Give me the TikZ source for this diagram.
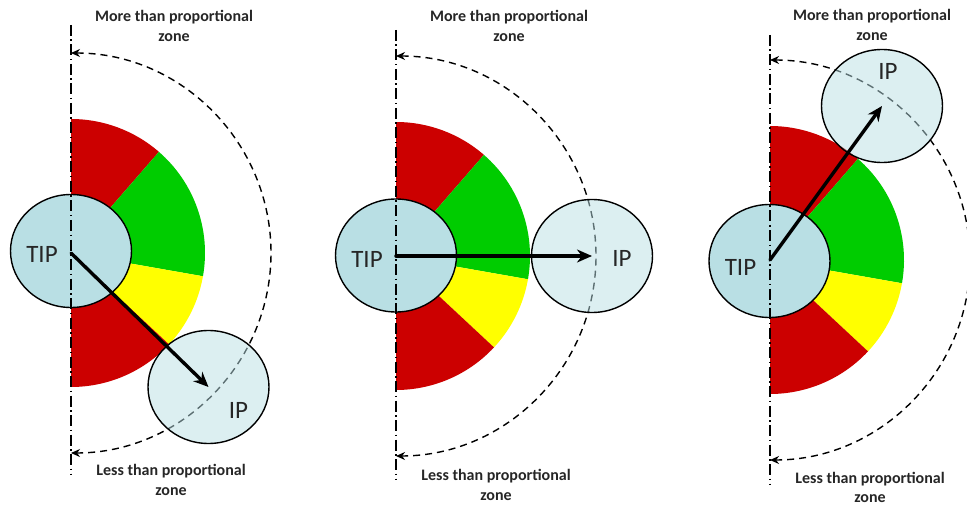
\documentclass[tikz,border=0pt]{standalone}
\usepackage{fontspec}
\setmainfont{Carlito}
\usepackage{tikz}
\usetikzlibrary{arrows.meta, positioning, calc, shapes.geometric}

\definecolor{fanred}{HTML}{CC0000}
\definecolor{fangreen}{HTML}{00CC00}
\definecolor{fanyellow}{HTML}{FFFF00}
\definecolor{tipblue}{HTML}{B9DFE4}

\begin{document}
\begin{tikzpicture}[x=1pt, y=1pt, >=Stealth, line cap=round, line join=round]
    % Styles
    \tikzset{
        axisline/.style={line width=1.2pt, black, line cap=butt, dash pattern=on 11pt off 3.5pt on 1.5pt off 3.5pt},
        zonearc/.style={line width=1.4pt, black, line cap=butt, dash pattern=on 7pt off 5pt, {Stealth[length=9pt,width=8pt]}-{Stealth[length=9pt,width=8pt]}},
        tipcell/.style={ellipse, draw, line width=1.4pt, fill=tipblue, inner sep=0pt, minimum width=121pt, minimum height=113pt},
        ipcell/.style={ellipse, draw, line width=1.4pt, fill=tipblue, fill opacity=0.5, inner sep=0pt, minimum width=121pt, minimum height=113pt},
        cellname/.style={font=\fontsize{25}{29}\selectfont, text=black!85},
        zonename/.style={font=\fontsize{16}{19.5}\selectfont\bfseries, align=center, text=black!85},
        vector/.style={line width=3.4pt, black, -{Stealth[length=15pt,width=13pt]}}
    }
    \useasboundingbox (0,0) rectangle (967,507);

    % --- Panel 1: IP below ---
    \coordinate (C1) at (71,254);
    \fill[fanred] (C1) -- ++(90:134) arc[start angle=90, end angle=49, radius=134] -- cycle;
    \fill[fangreen] (C1) -- ++(49:134) arc[start angle=49, end angle=-10, radius=134] -- cycle;
    \fill[fanyellow] (C1) -- ++(-10:134) arc[start angle=-10, end angle=-43, radius=134] -- cycle;
    \fill[fanred] (C1) -- ++(-43:134) arc[start angle=-43, end angle=-90, radius=134] -- cycle;
    \draw[zonearc] ($(C1)+(0,200)$) arc[start angle=90, end angle=-90, radius=200];
    \node[tipcell] (tip1) at (71,256) {};
    \node[ipcell] (ip1) at (208.5,120) {};
    \node[cellname] (tipname1) at ($(tip1)+(-29,-3)$) {TIP};
    \node[cellname] (ipname1) at ($(ip1)+(30,-23)$) {IP};
    \draw[axisline] (71,482) -- (71,32);
    \draw[vector] (C1) -- (ip1.center);
    \node[zonename] (more1) at (174,481) {More than proportional\\zone};
    \node[zonename] (less1) at (171,27) {Less than proportional\\zone};

    % --- Panel 2: IP to the right ---
    \coordinate (C2) at (396,251);
    \fill[fanred] (C2) -- ++(90:134) arc[start angle=90, end angle=49, radius=134] -- cycle;
    \fill[fangreen] (C2) -- ++(49:134) arc[start angle=49, end angle=-10, radius=134] -- cycle;
    \fill[fanyellow] (C2) -- ++(-10:134) arc[start angle=-10, end angle=-43, radius=134] -- cycle;
    \fill[fanred] (C2) -- ++(-43:134) arc[start angle=-43, end angle=-90, radius=134] -- cycle;
    \draw[zonearc] ($(C2)+(0,200)$) arc[start angle=90, end angle=-90, radius=200];
    \node[tipcell] (tip2) at (396,251.5) {};
    \node[ipcell] (ip2) at (592,251) {};
    \node[cellname] (tipname2) at ($(tip2)+(-29,-4)$) {TIP};
    \node[cellname] (ipname2) at ($(ip2)+(30,-2)$) {IP};
    \draw[axisline] (396,477) -- (396,27);
    \draw[vector] (C2) -- (ip2.center);
    \node[zonename] (more2) at (509,481) {More than proportional\\zone};
    \node[zonename] (less2) at (496,22) {Less than proportional\\zone};

    % --- Panel 3: IP above ---
    \coordinate (C3) at (770,247);
    \fill[fanred] (C3) -- ++(90:134) arc[start angle=90, end angle=49, radius=134] -- cycle;
    \fill[fangreen] (C3) -- ++(49:134) arc[start angle=49, end angle=-10, radius=134] -- cycle;
    \fill[fanyellow] (C3) -- ++(-10:134) arc[start angle=-10, end angle=-43, radius=134] -- cycle;
    \fill[fanred] (C3) -- ++(-43:134) arc[start angle=-43, end angle=-90, radius=134] -- cycle;
    \draw[zonearc] ($(C3)+(0,200)$) arc[start angle=90, end angle=-90, radius=200];
    \node[tipcell] (tip3) at (769.5,246) {};
    \node[ipcell] (ip3) at (882,401) {};
    \node[cellname] (tipname3) at ($(tip3)+(-29,-6)$) {TIP};
    \node[cellname] (ipname3) at ($(ip3)+(6,35)$) {IP};
    \draw[axisline] (770,472) -- (770,22);
    \draw[vector] (C3) -- (ip3.center);
    \node[zonename] (more3) at (872,482) {More than proportional\\zone};
    \node[zonename] (less3) at (870,19.5) {Less than proportional\\zone};

\end{tikzpicture}
\end{document}
